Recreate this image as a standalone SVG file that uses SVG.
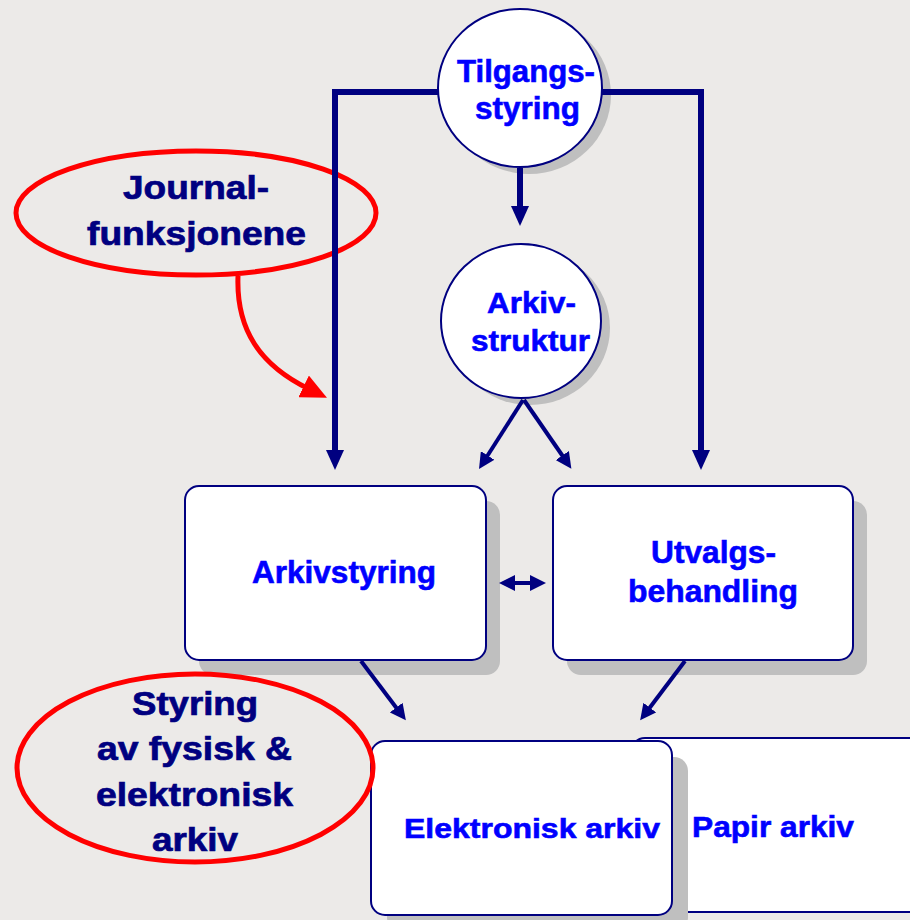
<svg xmlns="http://www.w3.org/2000/svg" width="910" height="920" viewBox="0 0 910 920">
<defs>
<style>
.bg{fill:#ECEAE8}
.shadow{fill:#BFBFBF}
.node{fill:#FFFFFF;stroke:#000080;stroke-width:2}
.lbl{font-family:"Liberation Sans",Arial,sans-serif;font-weight:bold;fill:#0000FF;stroke:#0000FF;stroke-width:0.6}
.note{font-family:"Liberation Sans",Arial,sans-serif;font-weight:bold;fill:#000080;stroke:#000080;stroke-width:0.7}
.ring{fill:none;stroke:#FF0000;stroke-width:5}
.thick{fill:none;stroke:#000080;stroke-width:6}
.thin{fill:none;stroke:#000080;stroke-width:4}
.red{fill:none;stroke:#FF0000;stroke-width:5}
</style>
<marker id="ah" markerUnits="userSpaceOnUse" markerWidth="20" markerHeight="18" refX="4" refY="9" orient="auto"><path d="M0,0 L20,9 L0,18 z" fill="#000080"/></marker>
<marker id="ahs" markerUnits="userSpaceOnUse" markerWidth="16" markerHeight="16" refX="3" refY="8" orient="auto-start-reverse"><path d="M0,0 L16,8 L0,16 z" fill="#000080"/></marker>
<marker id="ahr" markerUnits="userSpaceOnUse" markerWidth="26" markerHeight="24" refX="6" refY="12" orient="auto"><path d="M0,0 L26,12 L0,24 z" fill="#FF0000"/></marker>
</defs>
<rect class="bg" x="0" y="0" width="910" height="920"/>
<g id="tilgangsstyring">
<ellipse class="shadow" cx="529" cy="95" rx="82" ry="79"/>
<ellipse class="node" cx="520" cy="88" rx="82" ry="79"/>
<text class="lbl" font-size="31" x="457" y="82" textLength="138" lengthAdjust="spacingAndGlyphs">Tilgangs-</text>
<text class="lbl" font-size="31" x="475" y="119" textLength="105" lengthAdjust="spacingAndGlyphs">styring</text>
</g>
<g id="arkivstruktur">
<ellipse class="shadow" cx="530" cy="328" rx="80" ry="77"/>
<ellipse class="node" cx="521" cy="321" rx="80" ry="77"/>
<text class="lbl" font-size="30" x="487" y="313" textLength="89" lengthAdjust="spacingAndGlyphs">Arkiv-</text>
<text class="lbl" font-size="30" x="471" y="351" textLength="119" lengthAdjust="spacingAndGlyphs">struktur</text>
</g>
<g id="arkivstyring">
<rect class="shadow" x="199" y="501" width="301" height="174" rx="14"/>
<rect class="node" x="185" y="486" width="301" height="174" rx="14"/>
<text class="lbl" font-size="31" x="252" y="583" textLength="184" lengthAdjust="spacingAndGlyphs">Arkivstyring</text>
</g>
<g id="utvalgsbehandling">
<rect class="shadow" x="567" y="501" width="300" height="174" rx="14"/>
<rect class="node" x="553" y="486" width="300" height="174" rx="14"/>
<text class="lbl" font-size="31" x="651" y="563" textLength="125" lengthAdjust="spacingAndGlyphs">Utvalgs-</text>
<text class="lbl" font-size="31" x="628" y="602" textLength="170" lengthAdjust="spacingAndGlyphs">behandling</text>
</g>
<g id="papir-arkiv">
<rect class="node" x="631" y="738" width="300" height="174" rx="14"/>
<text class="lbl" font-size="29" x="692" y="837" textLength="162" lengthAdjust="spacingAndGlyphs">Papir arkiv</text>
</g>
<g id="elektronisk-arkiv">
<rect class="shadow" x="387" y="757" width="301" height="174" rx="14"/>
<rect class="node" x="371" y="741" width="301" height="174" rx="14"/>
<text class="lbl" font-size="28" x="404" y="838" textLength="256" lengthAdjust="spacingAndGlyphs">Elektronisk arkiv</text>
</g>
<g id="journalfunksjonene">
<ellipse class="ring" cx="196" cy="213" rx="180" ry="62"/>
<text class="note" font-size="33" x="123" y="199" textLength="146" lengthAdjust="spacingAndGlyphs">Journal-</text>
<text class="note" font-size="33" x="87" y="245" textLength="219" lengthAdjust="spacingAndGlyphs">funksjonene</text>
</g>
<g id="styring-note">
<ellipse class="ring" cx="195" cy="768" rx="178" ry="94"/>
<text class="note" font-size="33" x="132" y="715" textLength="126" lengthAdjust="spacingAndGlyphs">Styring</text>
<text class="note" font-size="33" x="97" y="760" textLength="195" lengthAdjust="spacingAndGlyphs">av fysisk &amp;</text>
<text class="note" font-size="33" x="96" y="806" textLength="197" lengthAdjust="spacingAndGlyphs">elektronisk</text>
<text class="note" font-size="33" x="152" y="851" textLength="86" lengthAdjust="spacingAndGlyphs">arkiv</text>
</g>
<g id="connectors">
<polyline class="thick" points="438,92 335,92 335,454" marker-end="url(#ah)"/>
<polyline class="thick" points="602,92 701,92 701,454" marker-end="url(#ah)"/>
<line class="thick" x1="520" y1="168" x2="520" y2="210" marker-end="url(#ah)"/>
<line class="thin" x1="523" y1="400" x2="486" y2="458" marker-end="url(#ahs)"/>
<line class="thin" x1="524" y1="400" x2="564" y2="458" marker-end="url(#ahs)"/>
<line class="thin" x1="512" y1="583" x2="533" y2="583" marker-start="url(#ahs)" marker-end="url(#ahs)"/>
<line class="thin" x1="361" y1="661" x2="398" y2="710" marker-end="url(#ahs)"/>
<line class="thin" x1="685" y1="661" x2="648" y2="710" marker-end="url(#ahs)"/>
<path class="red" d="M238,276 C236,330 260,365 309,389" marker-end="url(#ahr)"/>
</g>
</svg>
